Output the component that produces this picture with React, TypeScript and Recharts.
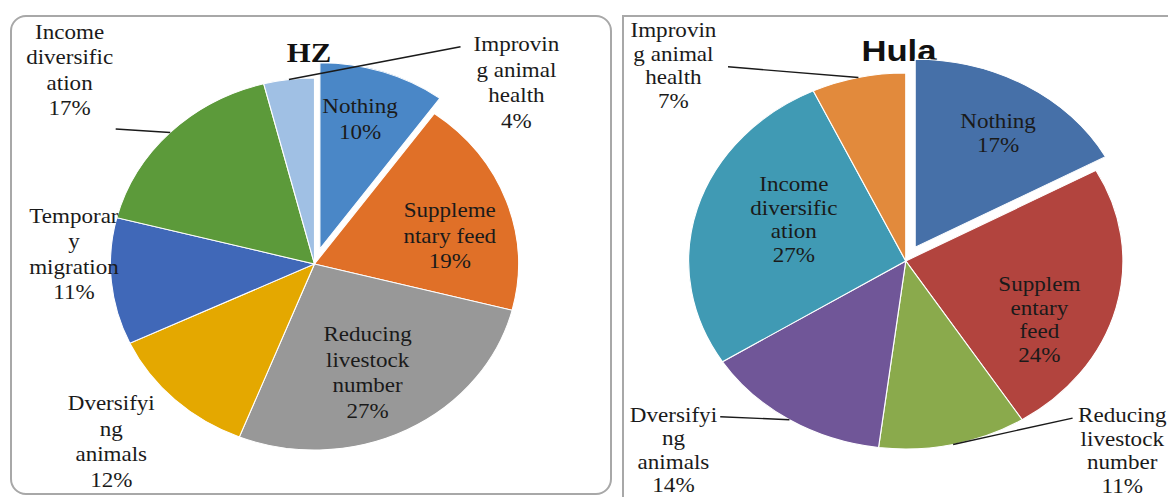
import { PieChart, Pie, Cell } from "recharts";

// HZ
const hzNames = [
  "Nothing", "Supplementary feed", "Reducing livestock number", "Diversifying animals",
  "Temporary migration", "Income diversification", "Improving animal health",
];
const hzValues = [10, 19, 27, 12, 11, 17, 4];
const hzLabelText = [
  ["Nothing"], ["Suppleme", "ntary feed"], ["Reducing", "livestock", "number"],
  ["Dversifyi", "ng", "animals"], ["Temporar", "y", "migration"],
  ["Income", "diversific", "ation"], ["Improvin", "g animal", "health"],
];
const hzColors = ["#4a87c7", "#e07028", "#989898", "#e4a800", "#4068b8", "#5c9a3a", "#a0c0e4"];

// Hula
const hulaNames = [
  "Nothing", "Supplementary feed", "Reducing livestock number", "Diversifying animals",
  "Income diversification", "Improving animal health",
];
const hulaValues = [17, 24, 11, 14, 27, 7];
const hulaLabelText = [
  ["Nothing"], ["Supplem", "entary", "feed"], ["Reducing", "livestock", "number"],
  ["Dversifyi", "ng", "animals"], ["Income", "diversific", "ation"], ["Improvin", "g animal", "health"],
];
const hulaColors = ["#4670a8", "#b2443e", "#8aaa4c", "#705698", "#409ab4", "#e28a3c"];

type Place = { r: number; d: number; lr?: number; ld?: number };

// label placement: r = fraction of radius, d = degrees off the slice middle (clockwise),
// lr/ld = end of the leader line for labels sitting outside the pie
const hzPlace: Place[] = [
  { r: 0.81, d: -2 },
  { r: 0.68, d: 7 },
  { r: 0.64, d: 3 },
  { r: 1.38, d: 3 },
  { r: 1.18, d: 8 },
  { r: 1.59, d: -4, lr: 1.215, ld: -8.3 },
  { r: 1.39, d: 52.6, lr: 1.37, ld: 38.7 },
];
const hulaPlace: Place[] = [
  { r: 0.8, d: 1.5 },
  { r: 0.69, d: 12.5 },
  { r: 1.42, d: -32, lr: 1.135, ld: -30 },
  { r: 1.47, d: 14.3, lr: 1.19, ld: 13.5 },
  { r: 0.56, d: 6.8 },
  { r: 1.49, d: -33.3, lr: 1.318, ld: -25.8 },
];

const W = 1168;
const H = 497;
const serif = "'Liberation Serif', 'Times New Roman', serif";

// angle measured clockwise from 12 o'clock
function clockPoint(cx: number, cy: number, r: number, deg: number) {
  const a = (deg * Math.PI) / 180;
  return [cx + r * Math.sin(a), cy - r * Math.cos(a)];
}

// first slice is pulled out of the pie by `dist` along its middle
function explodeShift(values: number[], dist: number) {
  const total = values.reduce((s, v) => s + v, 0);
  const mid = (values[0] / total) * 180;
  const [x, y] = clockPoint(0, 0, dist, mid);
  return { dx: x, dy: y };
}

function makeLabel(
  lines: string[][], place: Place[], values: number[], fontSize: number, lineH: number,
) {
  return (p: any) => {
    const i = p.index;
    const pl = place[i];
    const mid = 90 - p.midAngle;
    const R = p.outerRadius;
    const [x, y] = clockPoint(p.cx, p.cy, R * pl.r, mid + pl.d);
    const text = [...lines[i], `${values[i]}%`];
    const y0 = y - ((text.length - 1) * lineH) / 2 + fontSize * 0.33;
    let leader = null;
    if (pl.lr !== undefined && pl.ld !== undefined) {
      const [x1, y1] = clockPoint(p.cx, p.cy, R, mid);
      const [x2, y2] = clockPoint(p.cx, p.cy, R * pl.lr, mid + pl.ld);
      leader = <line x1={x1} y1={y1} x2={x2} y2={y2} stroke="#1a1a1a" strokeWidth={1.4} />;
    }
    return (
      <g key={`lbl-${i}`}>
        {leader}
        <text x={x} textAnchor="middle" fontFamily={serif} fontSize={fontSize} fill="#1a1a1a">
          {text.map((t, j) => (
            <tspan key={j} x={x} y={y0 + j * lineH}>{t}</tspan>
          ))}
        </text>
      </g>
    );
  };
}

type PanelProps = {
  left: number; width: number; stretch: number;
  cx: number; cy: number; radius: number;
  names: string[]; values: number[]; colors: string[];
  label: (p: any) => any;
  title: string; titleStyle: React.CSSProperties;
};

function Panel(props: PanelProps) {
  const { left, width, stretch, cx, cy, radius, names, values, colors, label, title, titleStyle } = props;
  const data = names.map((name, i) => ({ name, value: values[i] }));
  const { dx, dy } = explodeShift(values, 16);
  return (
    <div
      style={{
        position: "absolute", left, top: 0, width, height: H,
        transform: `scaleX(${stretch})`, transformOrigin: "0 0",
      }}
    >
      <div style={{ position: "absolute", ...titleStyle }}>{title}</div>
      <PieChart width={width} height={H}>
        {/* pulled-out "Nothing" slice */}
        <Pie
          data={data} dataKey="value" nameKey="name"
          cx={cx + dx} cy={cy + dy} outerRadius={radius}
          startAngle={90} endAngle={-270}
          isAnimationActive={false} label={false}
        >
          {data.map((_, i) => (
            <Cell key={i} fill={i === 0 ? colors[0] : "none"} stroke={i === 0 ? "#fff" : "none"} strokeWidth={1} />
          ))}
        </Pie>
        <Pie
          data={data} dataKey="value" nameKey="name"
          cx={cx} cy={cy} outerRadius={radius}
          startAngle={90} endAngle={-270}
          isAnimationActive={false} label={label} labelLine={false}
        >
          {data.map((_, i) => (
            <Cell key={i} fill={i === 0 ? "none" : colors[i]} stroke={i === 0 ? "none" : "#fff"} strokeWidth={1} />
          ))}
        </Pie>
      </PieChart>
    </div>
  );
}

export default function App() {
  const hzK = 1.097;
  const hulaK = 1.155;
  const hulaLeft = 610;
  return (
    <div style={{ position: "absolute", left: 0, top: 0, width: W, height: H, overflow: "hidden", background: "#fff" }}>
      <div style={{
        position: "absolute", left: 10, top: 15, width: 602, height: 480,
        border: "2px solid #a8a8a8", borderRadius: 16, boxSizing: "border-box",
      }} />
      <div style={{
        position: "absolute", left: 622, top: 15, width: 560, height: 500,
        border: "2px solid #a8a8a8", boxSizing: "border-box",
      }} />
      <Panel
        left={0} width={612 / hzK} stretch={hzK}
        cx={309 / hzK} cy={259} radius={186}
        names={hzNames} values={hzValues} colors={hzColors}
        label={makeLabel(hzLabelText, hzPlace, hzValues, 21, 25.5)}
        title="HZ"
        titleStyle={{
          left: 309 / hzK - 100, width: 200, top: 39, textAlign: "center",
          fontFamily: serif, fontWeight: 700, fontSize: 28, lineHeight: "28px", color: "#111",
        }}
      />
      <Panel
        left={hulaLeft} width={(W - hulaLeft) / hulaK} stretch={hulaK}
        cx={(900 - hulaLeft) / hulaK} cy={256} radius={188}
        names={hulaNames} values={hulaValues} colors={hulaColors}
        label={makeLabel(hulaLabelText, hulaPlace, hulaValues, 20, 23.5)}
        title="Hula"
        titleStyle={{
          left: (899 - hulaLeft) / hulaK - 100, width: 200, top: 36, textAlign: "center",
          fontFamily: "'Liberation Sans', Arial, sans-serif", fontWeight: 700, fontSize: 30,
          lineHeight: "30px", color: "#111",
        }}
      />
    </div>
  );
}
